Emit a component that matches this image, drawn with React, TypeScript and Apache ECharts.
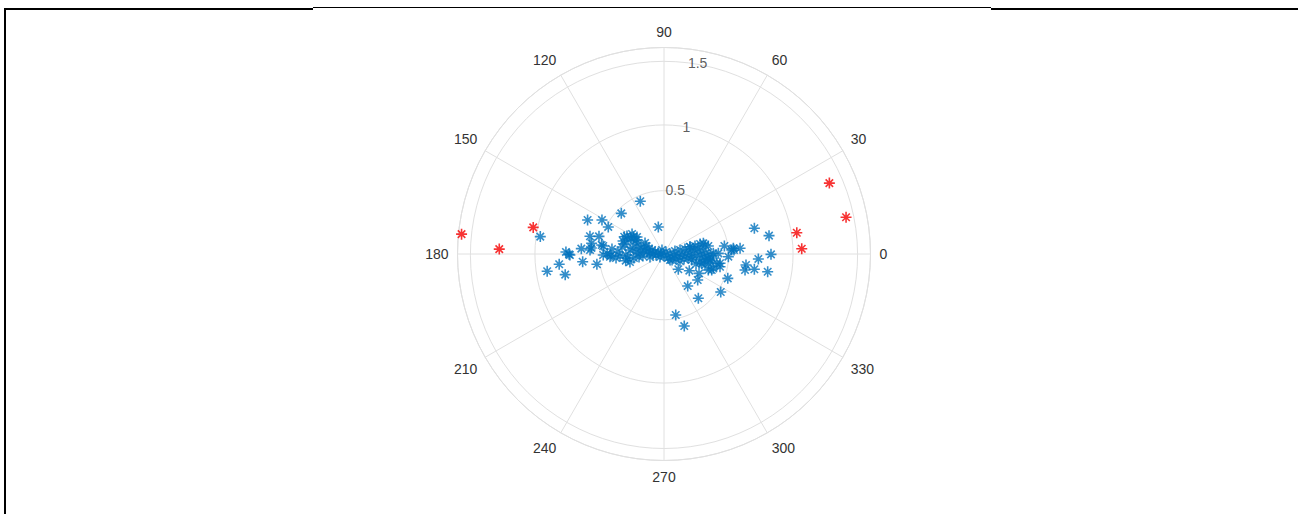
import React, { useEffect, useRef } from "react";
import * as echarts from "echarts";

// Angular ticks (degrees) and radial tick labels
const angleTicks = [0, 30, 60, 90, 120, 150, 180, 210, 240, 270, 300, 330];
const radiusTicks = [0.5, 1, 1.5];
const radiusMax = 1.6;
const radiusLabelAngle = 80;

// Blue series: [radius, angle(deg)]
const bluePoints: [number, number][] = [
  [0.448, 114.2], [0.457, 136.4], [0.648, 156], [0.548, 151.3], [0.48, 154.1],
  [0.214, 101.9], [0.968, 172], [0.59, 166.5], [0.522, 164.8], [0.642, 176.3],
  [0.76, 178.8], [0.736, 180.2], [0.915, 188.4], [0.816, 185.6], [0.782, 191.8],
  [0.633, 185.4], [0.526, 188.7], [0.411, 181.8], [0.301, 189.9], [0.565, 175.3],
  [0.475, 172.5], [0.729, 180.6], [0.574, 176.9], [0.567, 171.6], [0.488, 171.8],
  [0.44, 179.3], [0.419, 182.9], [0.471, 180.9], [0.336, 156.5], [0.273, 150.6],
  [0.238, 152.9],
  [0.357, 177.5], [0.33, 170.5], [0.312, 165.6], [0.299, 158.7], [0.284, 154.1],
  [0.246, 155.9], [0.213, 160.9], [0.184, 165.4], [0.158, 168.7], [0.133, 173.3],
  [0.109, 175.9], [0.085, 180], [0.062, 187.1], [0.341, 182.6], [0.295, 181.5],
  [0.265, 173.3], [0.245, 169], [0.218, 175.9], [0.186, 177.6], [0.164, 185.4],
  [0.153, 156], [0.123, 161.6], [0.098, 161.6], [0.071, 167.5], [0.047, 170.5],
  [0.023, 180], [0.281, 186.3], [0.235, 187.6], [0.195, 186.8], [0.319, 154.1],
  [0.292, 148], [0.247, 147.8], [0.333, 162.4], [0.17, 149.9], [0.405, 174.5],
  [0.373, 184.8], [0.271, 193.2], [0.039, 216.9], [0.111, 192.1],
  [0.728, 15.9], [0.826, 9.9], [0.829, 359.8], [0.732, 357], [0.815, 350.3],
  [0.71, 350.4], [0.64, 348.8], [0.641, 352.4], [0.529, 339.1], [0.529, 326.2],
  [0.434, 307.8], [0.309, 306.5], [0.33, 322.3], [0.31, 331.1], [0.235, 326.6],
  [0.162, 313.1], [0.481, 280.9], [0.58, 285.7], [0.591, 4.3], [0.539, 4.7],
  [0.472, 7.6], [0.316, 15.2], [0.349, 10.2], [0.499, 357.6], [0.44, 350.6],
  [0.398, 343.8], [0.365, 340.1], [0.421, 0.7], [0.526, 3.4], [0.382, 0.8],
  [0.321, 351.7], [0.301, 346.1], [0.22, 347.8], [0.066, 315], [0.415, 350],
  [0.39, 341.5], [0.36, 352.6], [0.445, 347.2], [0.543, 3.3], [0.209, 15.7],
  [0.325, 12.4],
  [0.035, 116.6], [0.022, 45], [0.047, 0], [0.078, 354.3], [0.11, 351.9],
  [0.14, 356.8], [0.171, 0], [0.202, 4.4], [0.235, 7.6], [0.266, 8.4],
  [0.295, 4.5], [0.326, 1.4], [0.357, 358.8], [0.044, 315], [0.078, 323.1],
  [0.101, 337.4], [0.135, 336.4], [0.16, 346], [0.189, 350.5], [0.218, 353.9],
  [0.249, 356.4], [0.279, 358.4], [0.311, 355.7], [0.343, 353.5], [0.373, 355.2],
  [0.016, 270], [0.167, 13.4], [0.209, 15.1], [0.248, 14.5], [0.29, 15.5],
  [0.128, 14], [0.088, 15.3], [0.286, 347.5], [0.26, 342.6], [0.329, 345],
  [0.362, 350.1],
];

// Red series (outliers): [radius, angle(deg)]
const redPoints: [number, number][] = [
  [1.576, 174.4], [1.277, 178.3], [1.034, 168.5], [1.394, 23.2],
  [1.439, 11.4], [1.042, 9.1], [1.068, 2.2],
];

const BLUE = "#0072BD";
const RED = "#F50000";
const GRID = "#e0e0e0";
const TEXT = "#333333";
const FONT = "'Liberation Sans', Arial, Helvetica, sans-serif";
const STAR = "path://M5 0L5 10M0 5L10 5M1.6 1.6L8.4 8.4M1.6 8.4L8.4 1.6";

export default function App() {
  const ref = useRef<HTMLDivElement>(null);
  useEffect(() => {
    document.body.style.margin = "0";
    if (!ref.current) return;
    const chart = echarts.init(ref.current, null, { renderer: "svg" });
    chart.setOption({
      animation: false,
      backgroundColor: "transparent",
      polar: { center: [664, 254], radius: 206.5 },
      angleAxis: {
        type: "value",
        min: 0,
        max: 360,
        interval: 30,
        startAngle: 0,
        clockwise: false,
        axisLine: { show: true, lineStyle: { color: GRID, width: 1 } },
        axisTick: { show: false },
        axisLabel: {
          show: true,
          margin: 9,
          color: TEXT,
          fontSize: 14,
          fontFamily: FONT,
          formatter: (v: number) => (angleTicks.indexOf(v) >= 0 ? String(v) : ""),
        },
        splitLine: { show: true, lineStyle: { color: GRID, width: 1 } },
      },
      radiusAxis: {
        type: "value",
        min: 0,
        max: radiusMax,
        interval: 0.5,
        axisLine: { show: false },
        axisTick: { show: false },
        axisLabel: { show: false },
        splitLine: { show: true, lineStyle: { color: GRID, width: 1 } },
      },
      series: [
        {
          type: "scatter",
          coordinateSystem: "polar",
          data: radiusTicks.map((r) => [r, radiusLabelAngle]),
          symbolSize: 0,
          silent: true,
          z: 1,
          label: {
            show: true,
            position: "inside",
            color: TEXT,
            fontSize: 14,
            fontFamily: FONT,
            formatter: (p: any) => String(p.value[0]),
          },
        },
        {
          type: "scatter",
          coordinateSystem: "polar",
          data: bluePoints,
          symbol: STAR,
          symbolSize: 11,
          z: 3,
          itemStyle: { color: "transparent", borderColor: BLUE, borderWidth: 1.6 },
        },
        {
          type: "scatter",
          coordinateSystem: "polar",
          data: redPoints,
          symbol: STAR,
          symbolSize: 11,
          z: 4,
          itemStyle: { color: "transparent", borderColor: RED, borderWidth: 1.6 },
        },
      ],
    });
    return () => chart.dispose();
  }, []);
  return (
    <div style={{ position: "relative", width: 1298, height: 514, overflow: "hidden", background: "#fff" }}>
      <div
        style={{
          position: "absolute",
          left: 4,
          top: 8,
          width: 1300,
          height: 520,
          borderLeft: "2px solid #000",
          borderTop: "2px solid #000",
          boxSizing: "border-box",
        }}
      />
      <div style={{ position: "absolute", left: 313, top: 7, width: 678, height: 3, background: "#fff" }} />
      <div style={{ position: "absolute", left: 313, top: 7, width: 678, height: 1, background: "#000" }} />
      <div ref={ref} style={{ position: "absolute", left: 0, top: 0, width: 1298, height: 514 }} />
    </div>
  );
}
